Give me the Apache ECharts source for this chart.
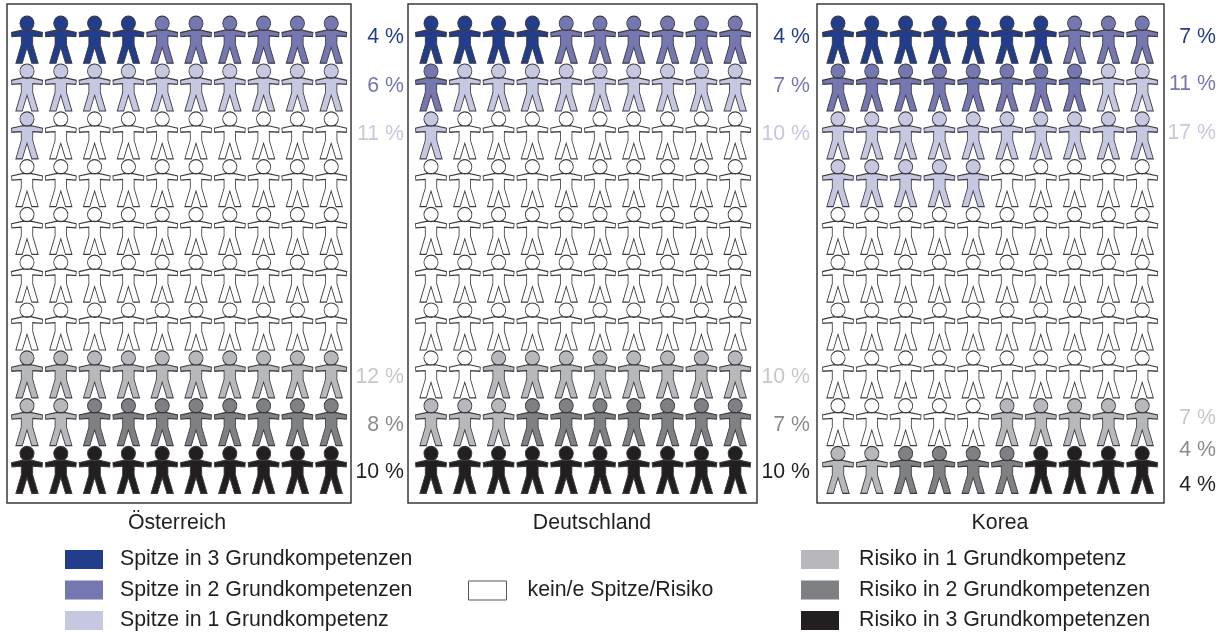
<!DOCTYPE html>
<html>
<head>
<meta charset="utf-8">
<style>html,body{margin:0;padding:0;background:#fff}#c{width:1224px;height:632px}</style>
<script src="https://cdn.jsdelivr.net/npm/echarts@6/dist/echarts.min.js"></script>
</head>
<body>
<div id="c"></div>
<script>
// ---- data ----
const categories = [
  'Spitze in 3 Grundkompetenzen',
  'Spitze in 2 Grundkompetenzen',
  'Spitze in 1 Grundkompetenz',
  'kein/e Spitze/Risiko',
  'Risiko in 1 Grundkompetenz',
  'Risiko in 2 Grundkompetenzen',
  'Risiko in 3 Grundkompetenzen'
];
const countries = ['Österreich', 'Deutschland', 'Korea'];
// number of figures (out of 100) per category, top-left to bottom-right
const figuresAustria = [4, 6, 11, 49, 12, 8, 10];
const figuresGermany = [4, 7, 10, 51, 11, 7, 10];
const figuresKorea   = [7, 11, 17, 50, 7, 4, 4];
// printed percentages (white category has none)
const labelsAustria = ['4 %', '6 %', '11 %', '', '12 %', '8 %', '10 %'];
const labelsGermany = ['4 %', '7 %', '10 %', '', '10 %', '7 %', '10 %'];
const labelsKorea   = ['7 %', '11 %', '17 %', '', '7 %', '4 %', '4 %'];

// ---- style ----
const fills = ['#213d8b', '#7577b0', '#c6c7e0', '#ffffff', '#b7b8bc', '#7f8084', '#231f20'];
const labelColors = ['#213d8b', '#7577b0', '#c6c7e0', '#ffffff', '#c6c7c9', '#8a8b8e', '#231f20'];
const person = 'path://M25 21A21 21 0 1 1 67 21A21 21 0 1 1 25 21Z' +
  'M32 41L60 41L92 48L91 60L63 58L63 84L79 138L60 138L46 92L32 138L13 138L29 84L29 58L1 60L0 48Z';
const font = '"Liberation Sans", Arial, sans-serif';
const fontSize = 21.3;
const colStep = 33.8, rowStep = 47.8;
const panels = [
  { left: 7,   width: 344, top: 4, height: 499, firstCol: 27,  firstRow: 39.7, labelRight: 404,  nameX: 177,  labelY: [37, 86, 134, 0, 377, 425, 472], figures: figuresAustria, labels: labelsAustria },
  { left: 408, width: 349, top: 4, height: 499, firstCol: 431, firstRow: 39.7, labelRight: 810,  nameX: 592,  labelY: [37, 86, 134, 0, 377, 425, 472], figures: figuresGermany, labels: labelsGermany },
  { left: 817, width: 347, top: 4, height: 499, firstCol: 838, firstRow: 39.7, labelRight: 1216, nameX: 1000, labelY: [37, 84, 133, 0, 418, 450, 485], figures: figuresKorea, labels: labelsKorea }
];
// legend placement per category: [rect left, rect top, gap to text]
const legendSpots = [[65, 549, 12], [65, 579.5, 12], [65, 610, 12], [468, 580, 16], [801, 549, 15], [801, 579.5, 15], [801, 610, 15]];

const grid = [], xAxis = [], yAxis = [], series = [], graphic = [];
panels.forEach((p, pi) => {
  grid.push({ show: true, left: p.left, top: p.top, width: p.width, height: p.height,
    borderColor: '#3a3a3a', borderWidth: 1.5, backgroundColor: 'transparent' });
  const xMin = -(p.firstCol - p.left) / colStep;
  const yMin = -(p.firstRow - p.top) / rowStep;
  xAxis.push({ gridIndex: pi, type: 'value', show: false, min: xMin, max: xMin + p.width / colStep });
  yAxis.push({ gridIndex: pi, type: 'value', show: false, inverse: true, min: yMin, max: yMin + p.height / rowStep });
  let n = 0;
  categories.forEach((name, ci) => {
    const data = [];
    for (let k = 0; k < p.figures[ci]; k++, n++) data.push([n % 10, Math.floor(n / 10)]);
    series.push({
      type: 'scatter', name, xAxisIndex: pi, yAxisIndex: pi, data,
      symbol: person, symbolSize: [31, 47], silent: true,
      itemStyle: { color: fills[ci], opacity: 1, borderColor: '#3a3a40', borderWidth: 1 }
    });
    if (p.labels[ci]) graphic.push({
      type: 'text', x: p.labelRight, y: p.labelY[ci], silent: true,
      style: { text: p.labels[ci], fill: labelColors[ci], font: fontSize + 'px ' + font, align: 'right', verticalAlign: 'middle' }
    });
  });
  graphic.push({
    type: 'text', x: p.nameX, y: 523, silent: true,
    style: { text: countries[pi], fill: '#231f20', font: fontSize + 'px ' + font, align: 'center', verticalAlign: 'middle' }
  });
});

const legend = categories.map((name, i) => ({
  show: true, orient: 'horizontal', left: legendSpots[i][0], top: legendSpots[i][1], padding: 0, selectedMode: false,
  itemWidth: 38, itemHeight: 19,
  textStyle: { color: '#231f20', fontFamily: font, fontSize, padding: [0, 0, 0, legendSpots[i][2]] },
  data: [{
    name, icon: 'rect',
    itemStyle: i === 3 ? { borderWidth: 1, borderColor: '#555', color: '#fff' } : { borderWidth: 0, color: fills[i] }
  }]
}));

const chart = echarts.init(document.getElementById('c'), null, { renderer: 'canvas' });
chart.setOption({
  animation: false,
  backgroundColor: '#ffffff',
  textStyle: { fontFamily: font },
  tooltip: { show: false },
  grid, xAxis, yAxis, series, graphic, legend
});
</script>
</body>
</html>
